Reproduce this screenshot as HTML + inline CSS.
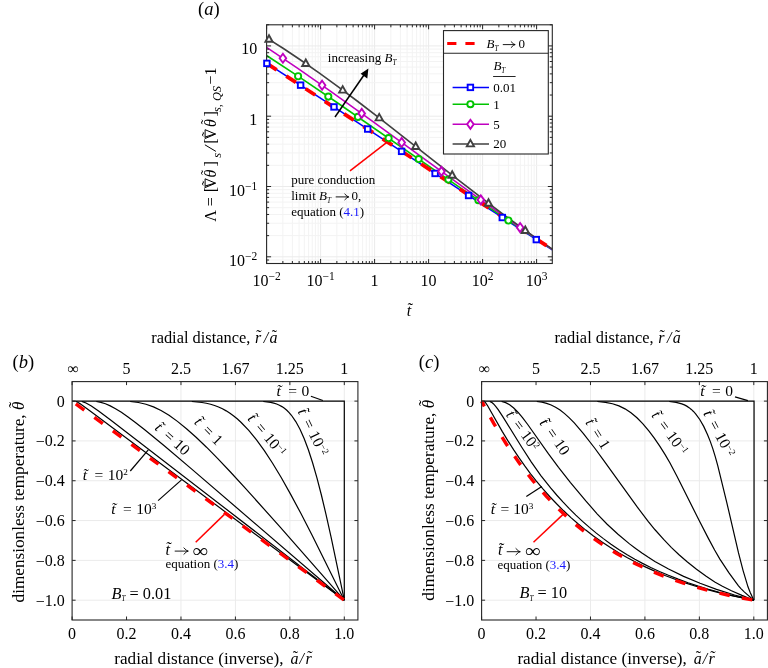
<!DOCTYPE html>
<html><head><meta charset="utf-8"><title>figure</title>
<style>html,body{margin:0;padding:0;background:#fff;}svg{display:block;filter:blur(0.3px);}
text{font-family:"Liberation Serif", serif;fill:#000;}</style></head>
<body><svg width="768" height="668" viewBox="0 0 768 668">
<defs><clipPath id="clipA"><rect x="266.6" y="24.8" width="285.7" height="238.7"/></clipPath></defs>
<rect width="768" height="668" fill="#fff"/>
<g stroke-width="1"><line x1="282.86" y1="24.8" x2="282.86" y2="263.5" stroke="#f3f3f3"/>
<line x1="292.36" y1="24.8" x2="292.36" y2="263.5" stroke="#f3f3f3"/>
<line x1="299.11" y1="24.8" x2="299.11" y2="263.5" stroke="#f3f3f3"/>
<line x1="304.34" y1="24.8" x2="304.34" y2="263.5" stroke="#f3f3f3"/>
<line x1="308.62" y1="24.8" x2="308.62" y2="263.5" stroke="#f3f3f3"/>
<line x1="312.24" y1="24.8" x2="312.24" y2="263.5" stroke="#f3f3f3"/>
<line x1="315.37" y1="24.8" x2="315.37" y2="263.5" stroke="#f3f3f3"/>
<line x1="318.13" y1="24.8" x2="318.13" y2="263.5" stroke="#f3f3f3"/>
<line x1="320.6" y1="24.8" x2="320.6" y2="263.5" stroke="#ebebeb"/>
<line x1="336.86" y1="24.8" x2="336.86" y2="263.5" stroke="#f3f3f3"/>
<line x1="346.36" y1="24.8" x2="346.36" y2="263.5" stroke="#f3f3f3"/>
<line x1="353.11" y1="24.8" x2="353.11" y2="263.5" stroke="#f3f3f3"/>
<line x1="358.34" y1="24.8" x2="358.34" y2="263.5" stroke="#f3f3f3"/>
<line x1="362.62" y1="24.8" x2="362.62" y2="263.5" stroke="#f3f3f3"/>
<line x1="366.24" y1="24.8" x2="366.24" y2="263.5" stroke="#f3f3f3"/>
<line x1="369.37" y1="24.8" x2="369.37" y2="263.5" stroke="#f3f3f3"/>
<line x1="372.13" y1="24.8" x2="372.13" y2="263.5" stroke="#f3f3f3"/>
<line x1="374.6" y1="24.8" x2="374.6" y2="263.5" stroke="#ebebeb"/>
<line x1="390.86" y1="24.8" x2="390.86" y2="263.5" stroke="#f3f3f3"/>
<line x1="400.36" y1="24.8" x2="400.36" y2="263.5" stroke="#f3f3f3"/>
<line x1="407.11" y1="24.8" x2="407.11" y2="263.5" stroke="#f3f3f3"/>
<line x1="412.34" y1="24.8" x2="412.34" y2="263.5" stroke="#f3f3f3"/>
<line x1="416.62" y1="24.8" x2="416.62" y2="263.5" stroke="#f3f3f3"/>
<line x1="420.24" y1="24.8" x2="420.24" y2="263.5" stroke="#f3f3f3"/>
<line x1="423.37" y1="24.8" x2="423.37" y2="263.5" stroke="#f3f3f3"/>
<line x1="426.13" y1="24.8" x2="426.13" y2="263.5" stroke="#f3f3f3"/>
<line x1="428.6" y1="24.8" x2="428.6" y2="263.5" stroke="#ebebeb"/>
<line x1="444.86" y1="24.8" x2="444.86" y2="263.5" stroke="#f3f3f3"/>
<line x1="454.36" y1="24.8" x2="454.36" y2="263.5" stroke="#f3f3f3"/>
<line x1="461.11" y1="24.8" x2="461.11" y2="263.5" stroke="#f3f3f3"/>
<line x1="466.34" y1="24.8" x2="466.34" y2="263.5" stroke="#f3f3f3"/>
<line x1="470.62" y1="24.8" x2="470.62" y2="263.5" stroke="#f3f3f3"/>
<line x1="474.24" y1="24.8" x2="474.24" y2="263.5" stroke="#f3f3f3"/>
<line x1="477.37" y1="24.8" x2="477.37" y2="263.5" stroke="#f3f3f3"/>
<line x1="480.13" y1="24.8" x2="480.13" y2="263.5" stroke="#f3f3f3"/>
<line x1="482.6" y1="24.8" x2="482.6" y2="263.5" stroke="#ebebeb"/>
<line x1="498.86" y1="24.8" x2="498.86" y2="263.5" stroke="#f3f3f3"/>
<line x1="508.36" y1="24.8" x2="508.36" y2="263.5" stroke="#f3f3f3"/>
<line x1="515.11" y1="24.8" x2="515.11" y2="263.5" stroke="#f3f3f3"/>
<line x1="520.34" y1="24.8" x2="520.34" y2="263.5" stroke="#f3f3f3"/>
<line x1="524.62" y1="24.8" x2="524.62" y2="263.5" stroke="#f3f3f3"/>
<line x1="528.24" y1="24.8" x2="528.24" y2="263.5" stroke="#f3f3f3"/>
<line x1="531.37" y1="24.8" x2="531.37" y2="263.5" stroke="#f3f3f3"/>
<line x1="534.13" y1="24.8" x2="534.13" y2="263.5" stroke="#f3f3f3"/>
<line x1="536.6" y1="24.8" x2="536.6" y2="263.5" stroke="#ebebeb"/>
<line x1="266.6" y1="260.02" x2="552.3" y2="260.02" stroke="#f3f3f3"/>
<line x1="266.6" y1="256.8" x2="552.3" y2="256.8" stroke="#ebebeb"/>
<line x1="266.6" y1="235.64" x2="552.3" y2="235.64" stroke="#f3f3f3"/>
<line x1="266.6" y1="223.26" x2="552.3" y2="223.26" stroke="#f3f3f3"/>
<line x1="266.6" y1="214.48" x2="552.3" y2="214.48" stroke="#f3f3f3"/>
<line x1="266.6" y1="207.66" x2="552.3" y2="207.66" stroke="#f3f3f3"/>
<line x1="266.6" y1="202.1" x2="552.3" y2="202.1" stroke="#f3f3f3"/>
<line x1="266.6" y1="197.39" x2="552.3" y2="197.39" stroke="#f3f3f3"/>
<line x1="266.6" y1="193.31" x2="552.3" y2="193.31" stroke="#f3f3f3"/>
<line x1="266.6" y1="189.72" x2="552.3" y2="189.72" stroke="#f3f3f3"/>
<line x1="266.6" y1="186.5" x2="552.3" y2="186.5" stroke="#ebebeb"/>
<line x1="266.6" y1="165.34" x2="552.3" y2="165.34" stroke="#f3f3f3"/>
<line x1="266.6" y1="152.96" x2="552.3" y2="152.96" stroke="#f3f3f3"/>
<line x1="266.6" y1="144.18" x2="552.3" y2="144.18" stroke="#f3f3f3"/>
<line x1="266.6" y1="137.36" x2="552.3" y2="137.36" stroke="#f3f3f3"/>
<line x1="266.6" y1="131.8" x2="552.3" y2="131.8" stroke="#f3f3f3"/>
<line x1="266.6" y1="127.09" x2="552.3" y2="127.09" stroke="#f3f3f3"/>
<line x1="266.6" y1="123.01" x2="552.3" y2="123.01" stroke="#f3f3f3"/>
<line x1="266.6" y1="119.42" x2="552.3" y2="119.42" stroke="#f3f3f3"/>
<line x1="266.6" y1="116.2" x2="552.3" y2="116.2" stroke="#ebebeb"/>
<line x1="266.6" y1="95.04" x2="552.3" y2="95.04" stroke="#f3f3f3"/>
<line x1="266.6" y1="82.66" x2="552.3" y2="82.66" stroke="#f3f3f3"/>
<line x1="266.6" y1="73.88" x2="552.3" y2="73.88" stroke="#f3f3f3"/>
<line x1="266.6" y1="67.06" x2="552.3" y2="67.06" stroke="#f3f3f3"/>
<line x1="266.6" y1="61.5" x2="552.3" y2="61.5" stroke="#f3f3f3"/>
<line x1="266.6" y1="56.79" x2="552.3" y2="56.79" stroke="#f3f3f3"/>
<line x1="266.6" y1="52.71" x2="552.3" y2="52.71" stroke="#f3f3f3"/>
<line x1="266.6" y1="49.12" x2="552.3" y2="49.12" stroke="#f3f3f3"/>
<line x1="266.6" y1="45.9" x2="552.3" y2="45.9" stroke="#ebebeb"/></g>
<g clip-path="url(#clipA)"><path d="M266.6 63.19 L326.62 102.1 L480.27 203.13 L552.3 249.9" fill="none" stroke="#0000ff" stroke-width="1.6"/>
<path d="M266.6 55.46 L300.21 77.65 L336.22 102.02 L449.06 180.05 L487.48 206.36 L521.09 228.94 L552.3 249.38" fill="none" stroke="#00c400" stroke-width="1.6"/>
<path d="M266.6 47.39 L297.81 68.37 L331.42 91.79 L369.84 119.29 L449.06 176.94 L482.68 201.16 L518.69 226.55 L552.3 249.46" fill="none" stroke="#c000c0" stroke-width="1.6"/>
<path d="M266.6 37.81 L283.41 48.48 L300.21 59.71 L319.42 73.13 L338.63 87.09 L357.83 101.49 L379.44 118.08 L456.27 178.41 L487.48 202.49 L504.28 215.12 L521.09 227.42 L537.89 239.33 L552.3 249.18" fill="none" stroke="#404040" stroke-width="1.6"/>
<path d="M266.6 63.37 L552.3 249.34" fill="none" stroke="#ff0000" stroke-width="3.8" stroke-dasharray="11.5 11.5" stroke-dashoffset="-0.5"/></g>
<rect x="266.6" y="24.8" width="285.7" height="238.7" fill="none" stroke="#262626" stroke-width="1.1"/>
<path d="M266.6 263.5 v-4.5 M266.6 24.8 v4.5 M282.86 263.5 v-2.5 M282.86 24.8 v2.5 M292.36 263.5 v-2.5 M292.36 24.8 v2.5 M299.11 263.5 v-2.5 M299.11 24.8 v2.5 M304.34 263.5 v-2.5 M304.34 24.8 v2.5 M308.62 263.5 v-2.5 M308.62 24.8 v2.5 M312.24 263.5 v-2.5 M312.24 24.8 v2.5 M315.37 263.5 v-2.5 M315.37 24.8 v2.5 M318.13 263.5 v-2.5 M318.13 24.8 v2.5 M320.6 263.5 v-4.5 M320.6 24.8 v4.5 M336.86 263.5 v-2.5 M336.86 24.8 v2.5 M346.36 263.5 v-2.5 M346.36 24.8 v2.5 M353.11 263.5 v-2.5 M353.11 24.8 v2.5 M358.34 263.5 v-2.5 M358.34 24.8 v2.5 M362.62 263.5 v-2.5 M362.62 24.8 v2.5 M366.24 263.5 v-2.5 M366.24 24.8 v2.5 M369.37 263.5 v-2.5 M369.37 24.8 v2.5 M372.13 263.5 v-2.5 M372.13 24.8 v2.5 M374.6 263.5 v-4.5 M374.6 24.8 v4.5 M390.86 263.5 v-2.5 M390.86 24.8 v2.5 M400.36 263.5 v-2.5 M400.36 24.8 v2.5 M407.11 263.5 v-2.5 M407.11 24.8 v2.5 M412.34 263.5 v-2.5 M412.34 24.8 v2.5 M416.62 263.5 v-2.5 M416.62 24.8 v2.5 M420.24 263.5 v-2.5 M420.24 24.8 v2.5 M423.37 263.5 v-2.5 M423.37 24.8 v2.5 M426.13 263.5 v-2.5 M426.13 24.8 v2.5 M428.6 263.5 v-4.5 M428.6 24.8 v4.5 M444.86 263.5 v-2.5 M444.86 24.8 v2.5 M454.36 263.5 v-2.5 M454.36 24.8 v2.5 M461.11 263.5 v-2.5 M461.11 24.8 v2.5 M466.34 263.5 v-2.5 M466.34 24.8 v2.5 M470.62 263.5 v-2.5 M470.62 24.8 v2.5 M474.24 263.5 v-2.5 M474.24 24.8 v2.5 M477.37 263.5 v-2.5 M477.37 24.8 v2.5 M480.13 263.5 v-2.5 M480.13 24.8 v2.5 M482.6 263.5 v-4.5 M482.6 24.8 v4.5 M498.86 263.5 v-2.5 M498.86 24.8 v2.5 M508.36 263.5 v-2.5 M508.36 24.8 v2.5 M515.11 263.5 v-2.5 M515.11 24.8 v2.5 M520.34 263.5 v-2.5 M520.34 24.8 v2.5 M524.62 263.5 v-2.5 M524.62 24.8 v2.5 M528.24 263.5 v-2.5 M528.24 24.8 v2.5 M531.37 263.5 v-2.5 M531.37 24.8 v2.5 M534.13 263.5 v-2.5 M534.13 24.8 v2.5 M536.6 263.5 v-4.5 M536.6 24.8 v4.5 M266.6 260.02 h2.5 M552.3 260.02 h-2.5 M266.6 256.8 h4.5 M552.3 256.8 h-4.5 M266.6 235.64 h2.5 M552.3 235.64 h-2.5 M266.6 223.26 h2.5 M552.3 223.26 h-2.5 M266.6 214.48 h2.5 M552.3 214.48 h-2.5 M266.6 207.66 h2.5 M552.3 207.66 h-2.5 M266.6 202.1 h2.5 M552.3 202.1 h-2.5 M266.6 197.39 h2.5 M552.3 197.39 h-2.5 M266.6 193.31 h2.5 M552.3 193.31 h-2.5 M266.6 189.72 h2.5 M552.3 189.72 h-2.5 M266.6 186.5 h4.5 M552.3 186.5 h-4.5 M266.6 165.34 h2.5 M552.3 165.34 h-2.5 M266.6 152.96 h2.5 M552.3 152.96 h-2.5 M266.6 144.18 h2.5 M552.3 144.18 h-2.5 M266.6 137.36 h2.5 M552.3 137.36 h-2.5 M266.6 131.8 h2.5 M552.3 131.8 h-2.5 M266.6 127.09 h2.5 M552.3 127.09 h-2.5 M266.6 123.01 h2.5 M552.3 123.01 h-2.5 M266.6 119.42 h2.5 M552.3 119.42 h-2.5 M266.6 116.2 h4.5 M552.3 116.2 h-4.5 M266.6 95.04 h2.5 M552.3 95.04 h-2.5 M266.6 82.66 h2.5 M552.3 82.66 h-2.5 M266.6 73.88 h2.5 M552.3 73.88 h-2.5 M266.6 67.06 h2.5 M552.3 67.06 h-2.5 M266.6 61.5 h2.5 M552.3 61.5 h-2.5 M266.6 56.79 h2.5 M552.3 56.79 h-2.5 M266.6 52.71 h2.5 M552.3 52.71 h-2.5 M266.6 49.12 h2.5 M552.3 49.12 h-2.5 M266.6 45.9 h4.5 M552.3 45.9 h-4.5 M266.6 24.74 h2.5 M552.3 24.74 h-2.5" stroke="#262626" stroke-width="1" fill="none"/>
<rect x="264.15" y="60.63" width="5.5" height="5.5" fill="#fff" stroke="#0000ff" stroke-width="1.9"/>
<rect x="297.85" y="82.4" width="5.5" height="5.5" fill="#fff" stroke="#0000ff" stroke-width="1.9"/>
<rect x="331.25" y="104.17" width="5.5" height="5.5" fill="#fff" stroke="#0000ff" stroke-width="1.9"/>
<rect x="364.95" y="126.29" width="5.5" height="5.5" fill="#fff" stroke="#0000ff" stroke-width="1.9"/>
<rect x="398.85" y="148.61" width="5.5" height="5.5" fill="#fff" stroke="#0000ff" stroke-width="1.9"/>
<rect x="432.35" y="170.69" width="5.5" height="5.5" fill="#fff" stroke="#0000ff" stroke-width="1.9"/>
<rect x="465.85" y="192.73" width="5.5" height="5.5" fill="#fff" stroke="#0000ff" stroke-width="1.9"/>
<rect x="499.55" y="214.78" width="5.5" height="5.5" fill="#fff" stroke="#0000ff" stroke-width="1.9"/>
<rect x="533.55" y="236.85" width="5.5" height="5.5" fill="#fff" stroke="#0000ff" stroke-width="1.9"/>
<circle cx="298.1" cy="76.24" r="3.1" fill="#fff" stroke="#00c400" stroke-width="1.9"/>
<circle cx="328.3" cy="96.61" r="3.1" fill="#fff" stroke="#00c400" stroke-width="1.9"/>
<circle cx="357.9" cy="116.9" r="3.1" fill="#fff" stroke="#00c400" stroke-width="1.9"/>
<circle cx="388.6" cy="138.13" r="3.1" fill="#fff" stroke="#00c400" stroke-width="1.9"/>
<circle cx="418.7" cy="159.03" r="3.1" fill="#fff" stroke="#00c400" stroke-width="1.9"/>
<circle cx="448.4" cy="179.59" r="3.1" fill="#fff" stroke="#00c400" stroke-width="1.9"/>
<circle cx="478.4" cy="200.18" r="3.1" fill="#fff" stroke="#00c400" stroke-width="1.9"/>
<circle cx="508.4" cy="220.48" r="3.1" fill="#fff" stroke="#00c400" stroke-width="1.9"/>
<path d="M282.9 53.74 L286.2 58.24 L282.9 62.74 L279.6 58.24 Z" fill="#fff" stroke="#c000c0" stroke-width="1.9"/>
<path d="M322.1 80.72 L325.4 85.22 L322.1 89.72 L318.8 85.22 Z" fill="#fff" stroke="#c000c0" stroke-width="1.9"/>
<path d="M361.7 108.92 L365 113.42 L361.7 117.92 L358.4 113.42 Z" fill="#fff" stroke="#c000c0" stroke-width="1.9"/>
<path d="M401.7 137.94 L405 142.44 L401.7 146.94 L398.4 142.44 Z" fill="#fff" stroke="#c000c0" stroke-width="1.9"/>
<path d="M441.4 166.88 L444.7 171.38 L441.4 175.88 L438.1 171.38 Z" fill="#fff" stroke="#c000c0" stroke-width="1.9"/>
<path d="M480.8 195.32 L484.1 199.82 L480.8 204.32 L477.5 199.82 Z" fill="#fff" stroke="#c000c0" stroke-width="1.9"/>
<path d="M520.1 223.03 L523.4 227.53 L520.1 232.03 L516.8 227.53 Z" fill="#fff" stroke="#c000c0" stroke-width="1.9"/>
<path d="M269 35.3 L272.6 41.8 L265.4 41.8 Z" fill="#fff" stroke="#404040" stroke-width="1.9"/>
<path d="M305.8 59.55 L309.4 66.05 L302.2 66.05 Z" fill="#fff" stroke="#404040" stroke-width="1.9"/>
<path d="M342.7 86.11 L346.3 92.61 L339.1 92.61 Z" fill="#fff" stroke="#404040" stroke-width="1.9"/>
<path d="M379.2 113.9 L382.8 120.4 L375.6 120.4 Z" fill="#fff" stroke="#404040" stroke-width="1.9"/>
<path d="M415.7 142.5 L419.3 149 L412.1 149 Z" fill="#fff" stroke="#404040" stroke-width="1.9"/>
<path d="M452.2 171.23 L455.8 177.73 L448.6 177.73 Z" fill="#fff" stroke="#404040" stroke-width="1.9"/>
<path d="M488.5 199.27 L492.1 205.77 L484.9 205.77 Z" fill="#fff" stroke="#404040" stroke-width="1.9"/>
<path d="M525.3 226.44 L528.9 232.94 L521.7 232.94 Z" fill="#fff" stroke="#404040" stroke-width="1.9"/>
<text x="198" y="15" font-size="18.5" text-anchor="start">(<tspan font-style="italic">a</tspan>)</text>
<text x="257.3" y="54.3" font-size="16" text-anchor="end">10</text>
<text x="257.3" y="124.5" font-size="16" text-anchor="end">1</text>
<text x="257.3" y="195.9" font-size="16" text-anchor="end">10<tspan font-size="11.5" dy="-6">−1</tspan></text>
<text x="257.3" y="265.5" font-size="16" text-anchor="end">10<tspan font-size="11.5" dy="-6">−2</tspan></text>
<text x="266.6" y="285.7" font-size="16" text-anchor="middle">10<tspan font-size="11.5" dy="-6">−2</tspan></text>
<text x="320.6" y="285.7" font-size="16" text-anchor="middle">10<tspan font-size="11.5" dy="-6">−1</tspan></text>
<text x="374.6" y="285.7" font-size="16" text-anchor="middle">1</text>
<text x="428.6" y="285.7" font-size="16" text-anchor="middle">10</text>
<text x="482.6" y="285.7" font-size="16" text-anchor="middle">10<tspan font-size="11.5" dy="-6">2</tspan></text>
<text x="536.6" y="285.7" font-size="16" text-anchor="middle">10<tspan font-size="11.5" dy="-6">3</tspan></text>
<text x="409" y="315.5" font-size="16" text-anchor="middle"><tspan font-style="italic">t̃</tspan></text>
<g transform="translate(215.5 221.6) rotate(-90)"><text x="-0.2" y="0" font-size="16" text-anchor="start">Λ</text>
<text x="15.3" y="0" font-size="16" text-anchor="start">=</text>
<text x="29.3" y="0" font-size="16" text-anchor="start">[</text>
<path d="M34 -10.4 H42.8 L38.4 0 Z" fill="none" stroke="#000" stroke-width="1" stroke-linejoin="miter"/>
<path d="M35.5 -10.2 L38.7 0" stroke="#000" stroke-width="1.1"/>
<text x="38.5" y="-3.85" font-size="15" text-anchor="middle">˜</text>
<text x="44.1" y="0" font-size="16" text-anchor="start"><tspan font-style="italic">θ</tspan></text>
<text x="49.4" y="-4.15" font-size="15" text-anchor="middle">˜</text>
<text x="55" y="0" font-size="16" text-anchor="start">]</text>
<text x="77.9" y="0" font-size="16" text-anchor="start">[</text>
<path d="M83.1 -10.4 H91.9 L87.5 0 Z" fill="none" stroke="#000" stroke-width="1" stroke-linejoin="miter"/>
<path d="M84.6 -10.2 L87.8 0" stroke="#000" stroke-width="1.1"/>
<text x="87.6" y="-3.85" font-size="15" text-anchor="middle">˜</text>
<text x="94.6" y="0" font-size="16" text-anchor="start"><tspan font-style="italic">θ</tspan></text>
<text x="99.9" y="-4.15" font-size="15" text-anchor="middle">˜</text>
<text x="105.2" y="0" font-size="16" text-anchor="start">]</text>
<text x="63.9" y="5.5" font-size="12.3" text-anchor="start"><tspan font-style="italic">s</tspan></text>
<path d="M70.2 0.4 L76.8 -10.6" stroke="#000" stroke-width="1"/>
<text x="109.6" y="5.5" font-size="12.3" text-anchor="start"><tspan font-style="italic">s, QS</tspan></text>
<text x="137.1" y="0" font-size="16" text-anchor="start">−1</text></g>
<rect x="443.5" y="30.6" width="104.8" height="123.4" fill="#fff" stroke="#262626" stroke-width="1.1"/>
<line x1="443.5" y1="53.2" x2="548.3" y2="53.2" stroke="#262626" stroke-width="1.1"/>
<line x1="447.2" y1="43.6" x2="475" y2="43.6" stroke="#ff0000" stroke-width="3" stroke-dasharray="9.2 9"/>
<text x="486.6" y="48" font-size="13" text-anchor="start"><tspan font-style="italic">B</tspan><tspan font-size="7.2" font-style="italic" dy="2.9">T</tspan></text>
<path d="M503.2 44.6 H515 M511.2 41.75 Q513.67 44.4 515 44.6 Q513.67 44.8 511.2 47.45" fill="none" stroke="#000" stroke-width="0.9" stroke-linecap="round"/>
<text x="518.4" y="48" font-size="13" text-anchor="start">0</text>
<text x="493.4" y="69.9" font-size="13" text-anchor="start"><tspan font-style="italic">B</tspan><tspan font-size="7.2" font-style="italic" dy="2.9">T</tspan></text>
<line x1="493.1" y1="76.5" x2="515.6" y2="76.5" stroke="#262626" stroke-width="1"/>
<line x1="452.6" y1="87.4" x2="489" y2="87.4" stroke="#0000ff" stroke-width="1.5"/>
<rect x="467.65" y="84.65" width="5.5" height="5.5" fill="#fff" stroke="#0000ff" stroke-width="1.9"/>
<text x="493.2" y="91.8" font-size="13" text-anchor="start">0.01</text>
<line x1="452.6" y1="104.2" x2="489" y2="104.2" stroke="#00c400" stroke-width="1.5"/>
<circle cx="470.4" cy="104.2" r="3.1" fill="#fff" stroke="#00c400" stroke-width="1.9"/>
<text x="493.2" y="108.6" font-size="13" text-anchor="start">1</text>
<line x1="452.6" y1="124.3" x2="489" y2="124.3" stroke="#c000c0" stroke-width="1.5"/>
<path d="M470.4 119.8 L473.7 124.3 L470.4 128.8 L467.1 124.3 Z" fill="#fff" stroke="#c000c0" stroke-width="1.9"/>
<text x="493.2" y="128.7" font-size="13" text-anchor="start">5</text>
<line x1="452.6" y1="143.9" x2="489" y2="143.9" stroke="#404040" stroke-width="1.5"/>
<path d="M470.4 139.9 L474 146.4 L466.8 146.4 Z" fill="#fff" stroke="#404040" stroke-width="1.9"/>
<text x="493.2" y="148.3" font-size="13" text-anchor="start">20</text>
<text x="327.8" y="61.7" font-size="13" text-anchor="start">increasing <tspan font-style="italic">B</tspan><tspan font-size="7.2" font-style="italic" dy="2.9">T</tspan></text>
<line x1="335" y1="117" x2="364.5" y2="74.2" stroke="#000" stroke-width="1.5"/>
<path d="M368.4 68.4 L367.3 78.4 L360.6 73.8 Z" fill="#000"/>
<line x1="350" y1="170.9" x2="387.8" y2="141.7" stroke="#ff0000" stroke-width="1.5"/>
<text x="291.2" y="183.9" font-size="13" text-anchor="start">pure conduction</text>
<text x="291.2" y="200" font-size="13" text-anchor="start">limit <tspan font-style="italic">B</tspan><tspan font-size="7.2" font-style="italic" dy="2.9">T</tspan></text>
<path d="M336.1 196.9 H348.6 M344.8 194.05 Q347.27 196.7 348.6 196.9 Q347.27 197.1 344.8 199.75" fill="none" stroke="#000" stroke-width="0.9" stroke-linecap="round"/>
<text x="351.5" y="200" font-size="13" text-anchor="start">0,</text>
<text x="291.2" y="216" font-size="13" text-anchor="start">equation (<tspan fill="#1a1aff">4.1</tspan>)</text>
<g stroke-width="1"><line x1="180.98" y1="381.6" x2="180.98" y2="620" stroke="#ebebeb"/>
<line x1="235.42" y1="381.6" x2="235.42" y2="620" stroke="#ebebeb"/>
<line x1="289.86" y1="381.6" x2="289.86" y2="620" stroke="#ebebeb"/>
<line x1="344.3" y1="381.6" x2="344.3" y2="620" stroke="#ebebeb"/>
<line x1="72.1" y1="401.1" x2="357.91" y2="401.1" stroke="#ebebeb"/>
<line x1="72.1" y1="440.92" x2="357.91" y2="440.92" stroke="#ebebeb"/>
<line x1="72.1" y1="480.74" x2="357.91" y2="480.74" stroke="#ebebeb"/>
<line x1="72.1" y1="520.56" x2="357.91" y2="520.56" stroke="#ebebeb"/>
<line x1="72.1" y1="560.38" x2="357.91" y2="560.38" stroke="#ebebeb"/>
<line x1="72.1" y1="600.2" x2="357.91" y2="600.2" stroke="#ebebeb"/></g>
<g fill="none" stroke="#000" stroke-width="1.2"><path d="M263.25 401.49 L270.67 402.39 L273.8 403.11 L276.66 404.03 L279.38 405.19 L281.97 406.61 L284.42 408.29 L286.8 410.27 L289.11 412.57 L291.43 415.27 L295.78 421.56 L300 429.29 L304.22 438.76 L308.37 449.81 L312.59 462.79 L316.94 477.94 L321.44 495.25 L325.99 514.34 L331.03 536.85 L344.3 600.2"/>
<path d="M191.8 401.5 L201.94 402.47 L206.36 403.25 L210.58 404.25 L214.6 405.48 L218.54 407 L222.42 408.8 L226.17 410.86 L229.98 413.29 L233.72 416.01 L237.46 419.07 L241.2 422.48 L248.76 430.37 L256.52 439.82 L264.34 450.63 L272.58 463.21 L281.35 477.79 L290.81 494.6 L300.82 513.31 L312.11 535.28 L344.3 600.2"/>
<path d="M130.15 401.49 L138.38 402.47 L146 404.24 L153.49 406.91 L161.04 410.56 L169 415.35 L177.44 421.36 L186.49 428.68 L196.36 437.48 L206.5 447.2 L217.8 458.63 L230.45 471.97 L245.02 487.8 L280.2 527.17 L344.3 600.2"/>
<path d="M96.33 401.5 L100.89 402.34 L105.44 403.77 L110.28 405.87 L115.52 408.7 L121.37 412.35 L128.04 416.98 L135.73 422.72 L144.71 429.78 L164.24 445.83 L192.34 469.64 L344.3 600.2"/>
<path d="M81.76 401.49 L83.8 402.09 L85.98 403.02 L91.36 406.09 L98.91 411.28 L110.28 419.72 L344.3 600.2"/>
<path d="M76.05 401.47 L77.75 402.31 L80.2 403.87 L89.79 410.82 L225.08 511.68 L344.3 600.2"/>
<path d="M72.1 401.1 L344.3 401.1 L344.3 600.2"/></g>
<path d="M72.1 401.1 L344.3 600.2" fill="none" stroke="#ff0000" stroke-width="3.4" stroke-dasharray="10.5 12.47" stroke-dashoffset="-4.59"/>
<rect x="72.1" y="381.6" width="285.81" height="238.4" fill="none" stroke="#262626" stroke-width="1.1"/>
<path d="M72.1 620 v-3.5 M72.1 381.6 v3.5 M72.1 401.1 h3.5 M357.91 401.1 h-3.5 M126.54 620 v-3.5 M126.54 381.6 v3.5 M72.1 440.92 h3.5 M357.91 440.92 h-3.5 M180.98 620 v-3.5 M180.98 381.6 v3.5 M72.1 480.74 h3.5 M357.91 480.74 h-3.5 M235.42 620 v-3.5 M235.42 381.6 v3.5 M72.1 520.56 h3.5 M357.91 520.56 h-3.5 M289.86 620 v-3.5 M289.86 381.6 v3.5 M72.1 560.38 h3.5 M357.91 560.38 h-3.5 M344.3 620 v-3.5 M344.3 381.6 v3.5 M72.1 600.2 h3.5 M357.91 600.2 h-3.5" stroke="#262626" stroke-width="1" fill="none"/>
<text x="151.2" y="342.7" font-size="16.4" text-anchor="start">radial distance,</text>
<text x="255.1" y="342.7" font-size="16" text-anchor="start"><tspan font-style="italic">r</tspan></text>
<text x="258.9" y="340.96" font-size="16" text-anchor="middle">˜</text>
<text x="263.7" y="342.7" font-size="16" text-anchor="start"><tspan font-style="italic">/</tspan></text>
<text x="269.6" y="342.7" font-size="16" text-anchor="start"><tspan font-style="italic">a</tspan></text>
<text x="274.5" y="340.96" font-size="16" text-anchor="middle">˜</text>
<text x="12.6" y="368" font-size="18.5" text-anchor="start">(<tspan font-style="italic">b</tspan>)</text>
<text x="73.2" y="373.5" font-size="16" text-anchor="middle">∞</text>
<text x="126.54" y="373.5" font-size="16" text-anchor="middle">5</text>
<text x="180.98" y="373.5" font-size="16" text-anchor="middle">2.5</text>
<text x="235.42" y="373.5" font-size="16" text-anchor="middle">1.67</text>
<text x="289.86" y="373.5" font-size="16" text-anchor="middle">1.25</text>
<text x="344.3" y="373.5" font-size="16" text-anchor="middle">1</text>
<text x="64.7" y="406.5" font-size="16" text-anchor="end">0</text>
<text x="64.7" y="446.32" font-size="16" text-anchor="end"><tspan dy="1.1">−</tspan><tspan dy="-1.1">0.2</tspan></text>
<text x="64.7" y="486.14" font-size="16" text-anchor="end"><tspan dy="1.1">−</tspan><tspan dy="-1.1">0.4</tspan></text>
<text x="64.7" y="525.96" font-size="16" text-anchor="end"><tspan dy="1.1">−</tspan><tspan dy="-1.1">0.6</tspan></text>
<text x="64.7" y="565.78" font-size="16" text-anchor="end"><tspan dy="1.1">−</tspan><tspan dy="-1.1">0.8</tspan></text>
<text x="64.7" y="605.6" font-size="16" text-anchor="end"><tspan dy="1.1">−</tspan><tspan dy="-1.1">1.0</tspan></text>
<text x="72.1" y="638.7" font-size="16" text-anchor="middle">0</text>
<text x="126.54" y="638.7" font-size="16" text-anchor="middle">0.2</text>
<text x="180.98" y="638.7" font-size="16" text-anchor="middle">0.4</text>
<text x="235.42" y="638.7" font-size="16" text-anchor="middle">0.6</text>
<text x="289.86" y="638.7" font-size="16" text-anchor="middle">0.8</text>
<text x="344.3" y="638.7" font-size="16" text-anchor="middle">1.0</text>
<text x="114.2" y="663.9" font-size="17.2" text-anchor="start">radial distance (inverse),</text>
<text x="290.5" y="663.7" font-size="16" text-anchor="start"><tspan font-style="italic">a</tspan></text>
<text x="295.3" y="662.46" font-size="16" text-anchor="middle">˜</text>
<text x="299.5" y="663.7" font-size="16" text-anchor="start"><tspan font-style="italic">/</tspan></text>
<text x="305.4" y="663.7" font-size="16" text-anchor="start"><tspan font-style="italic">r</tspan></text>
<text x="309.8" y="662.46" font-size="16" text-anchor="middle">˜</text>
<g transform="translate(23.9 502) rotate(-90)"><text x="0" y="0" font-size="17.2" text-anchor="middle">dimensionless temperature, <tspan font-style="italic">θ</tspan><tspan font-style="italic" dx="-7.1" dy="-3.9">˜</tspan></text></g>
<g stroke-width="1"><line x1="590.48" y1="381.6" x2="590.48" y2="620" stroke="#ebebeb"/>
<line x1="644.92" y1="381.6" x2="644.92" y2="620" stroke="#ebebeb"/>
<line x1="699.36" y1="381.6" x2="699.36" y2="620" stroke="#ebebeb"/>
<line x1="753.8" y1="381.6" x2="753.8" y2="620" stroke="#ebebeb"/>
<line x1="481.6" y1="401.1" x2="767.41" y2="401.1" stroke="#ebebeb"/>
<line x1="481.6" y1="440.92" x2="767.41" y2="440.92" stroke="#ebebeb"/>
<line x1="481.6" y1="480.74" x2="767.41" y2="480.74" stroke="#ebebeb"/>
<line x1="481.6" y1="520.56" x2="767.41" y2="520.56" stroke="#ebebeb"/>
<line x1="481.6" y1="560.38" x2="767.41" y2="560.38" stroke="#ebebeb"/>
<line x1="481.6" y1="600.2" x2="767.41" y2="600.2" stroke="#ebebeb"/></g>
<g fill="none" stroke="#000" stroke-width="1.2"><path d="M669.28 401.5 L676.15 402.33 L681.8 403.83 L684.38 404.89 L686.76 406.14 L689.07 407.64 L691.31 409.41 L693.48 411.45 L695.64 413.85 L699.76 419.48 L703.71 426.39 L707.57 434.67 L710.34 441.61 L712.79 448.57 L715.25 456.56 L717.75 465.67 L726.62 501.77 L738.51 552.98 L743.03 570.31 L747.97 586.83 L750.1 592.16 L753.8 600.2"/>
<path d="M597.31 401.49 L605.47 402.31 L612.48 403.74 L618.95 405.91 L625 408.86 L630.98 412.79 L636.96 417.77 L642.93 423.8 L649.02 431.02 L654.29 438.07 L659.75 446.07 L664.97 454.33 L669.87 462.81 L677.09 476.49 L698.91 520.03 L708.5 538.64 L714.6 550.06 L719.89 559.11 L728.97 572.91 L738.3 585.67 L740.92 588.61 L744.22 591.86 L753.8 600.2"/>
<path d="M536.79 401.5 L541.96 402.19 L546.66 403.32 L551.15 404.97 L555.57 407.2 L560.06 410.08 L564.62 413.62 L569.31 417.87 L574.27 422.95 L583.43 433.58 L594.61 448 L602.75 459.05 L637 506.7 L648.14 521.44 L655.03 529.77 L663.63 539.41 L671.24 547.33 L678.75 554.51 L687.11 561.8 L696.52 569.3 L705.82 576.08 L714.76 581.99 L722.4 586.29 L731.45 590.76 L741.94 595.4 L753.8 600.2"/>
<path d="M501.6 401.49 L505.69 402.62 L509.64 404.73 L513.72 407.97 L518.15 412.48 L522.52 417.67 L527.72 424.5 L548.51 453.89 L558.52 467.37 L570.49 482.53 L585.79 500.88 L597.1 513.81 L607.14 524.26 L618 534.31 L629.5 543.89 L635.65 548.59 L641.94 553.08 L648.37 557.37 L654.88 561.42 L668.56 569.04 L683.62 576.34 L700.07 583.3 L716.51 589.33 L734.55 595.01 L753.8 600.2"/>
<path d="M489.83 401.48 L491.67 402.38 L493.58 403.94 L495.68 406.27 L498.19 409.61 L502.93 416.83 L521.78 447.22 L531.37 462.05 L540.86 475.54 L550.62 487.93 L556.65 495.01 L562.9 501.95 L569.29 508.64 L575.82 515.1 L582.55 521.38 L589.4 527.41 L596.32 533.14 L603.37 538.62 L610.98 544.16 L618.74 549.41 L626.72 554.45 L634.87 559.21 L642.53 563.36 L650.71 567.44 L659.37 571.43 L668.48 575.3 L678.19 579.13 L688.08 582.71 L698.17 586.08 L708.54 589.24 L719.32 592.25 L730.43 595.07 L741.95 597.73 L753.8 600.2"/>
<path d="M484.29 401.47 L485.7 402.84 L487.63 405.7 L502.2 431.36 L507.82 440.64 L513.72 449.9 L519.28 458.2 L524.93 466.19 L530.6 473.79 L536.37 481.1 L542.93 488.93 L549.64 496.47 L556.58 503.78 L563.66 510.81 L570.94 517.59 L578.29 524.02 L585.74 530.1 L593.47 536.01 L601.63 541.82 L609.99 547.36 L618.62 552.68 L627.44 557.73 L636.51 562.55 L645.77 567.1 L655.28 571.41 L665.05 575.49 L675 579.31 L685.21 582.9 L695.75 586.28 L706.57 589.44 L717.8 592.42 L729.37 595.19 L741.35 597.78 L753.8 600.2"/>
<path d="M481.6 401.1 L754.05 401.1 L754.05 600.2"/></g>
<path d="M481.6 401.1 L487.74 412.63 L493.88 423.56 L500.02 433.9 L506.16 443.71 L512.3 453 L519.12 462.74 L525.26 471.03 L532.08 479.72 L538.91 487.91 L546.41 496.37 L553.23 503.59 L560.74 511.04 L568.24 518.02 L575.74 524.55 L583.25 530.66 L591.44 536.89 L599.62 542.68 L607.81 548.06 L616.68 553.48 L625.55 558.49 L634.41 563.12 L643.96 567.72 L653.52 571.94 L663.07 575.83 L673.3 579.65 L683.53 583.14 L694.45 586.53 L705.36 589.6 L716.96 592.57 L728.56 595.24 L740.84 597.79 L753.8 600.2" fill="none" stroke="#ff0000" stroke-width="3.4" stroke-dasharray="10.5 12.47" stroke-dashoffset="-18.45"/>
<rect x="481.6" y="381.6" width="285.81" height="238.4" fill="none" stroke="#262626" stroke-width="1.1"/>
<path d="M481.6 620 v-3.5 M481.6 381.6 v3.5 M481.6 401.1 h3.5 M767.41 401.1 h-3.5 M536.04 620 v-3.5 M536.04 381.6 v3.5 M481.6 440.92 h3.5 M767.41 440.92 h-3.5 M590.48 620 v-3.5 M590.48 381.6 v3.5 M481.6 480.74 h3.5 M767.41 480.74 h-3.5 M644.92 620 v-3.5 M644.92 381.6 v3.5 M481.6 520.56 h3.5 M767.41 520.56 h-3.5 M699.36 620 v-3.5 M699.36 381.6 v3.5 M481.6 560.38 h3.5 M767.41 560.38 h-3.5 M753.8 620 v-3.5 M753.8 381.6 v3.5 M481.6 600.2 h3.5 M767.41 600.2 h-3.5" stroke="#262626" stroke-width="1" fill="none"/>
<text x="554.4" y="342.7" font-size="16.4" text-anchor="start">radial distance,</text>
<text x="658.3" y="342.7" font-size="16" text-anchor="start"><tspan font-style="italic">r</tspan></text>
<text x="662.1" y="340.96" font-size="16" text-anchor="middle">˜</text>
<text x="666.9" y="342.7" font-size="16" text-anchor="start"><tspan font-style="italic">/</tspan></text>
<text x="672.8" y="342.7" font-size="16" text-anchor="start"><tspan font-style="italic">a</tspan></text>
<text x="677.7" y="340.96" font-size="16" text-anchor="middle">˜</text>
<text x="418.8" y="368" font-size="18.5" text-anchor="start">(<tspan font-style="italic">c</tspan>)</text>
<text x="484.5" y="373.5" font-size="16" text-anchor="middle">∞</text>
<text x="536.04" y="373.5" font-size="16" text-anchor="middle">5</text>
<text x="590.48" y="373.5" font-size="16" text-anchor="middle">2.5</text>
<text x="644.92" y="373.5" font-size="16" text-anchor="middle">1.67</text>
<text x="699.36" y="373.5" font-size="16" text-anchor="middle">1.25</text>
<text x="753.8" y="373.5" font-size="16" text-anchor="middle">1</text>
<text x="474.2" y="406.5" font-size="16" text-anchor="end">0</text>
<text x="474.2" y="446.32" font-size="16" text-anchor="end"><tspan dy="1.1">−</tspan><tspan dy="-1.1">0.2</tspan></text>
<text x="474.2" y="486.14" font-size="16" text-anchor="end"><tspan dy="1.1">−</tspan><tspan dy="-1.1">0.4</tspan></text>
<text x="474.2" y="525.96" font-size="16" text-anchor="end"><tspan dy="1.1">−</tspan><tspan dy="-1.1">0.6</tspan></text>
<text x="474.2" y="565.78" font-size="16" text-anchor="end"><tspan dy="1.1">−</tspan><tspan dy="-1.1">0.8</tspan></text>
<text x="474.2" y="605.6" font-size="16" text-anchor="end"><tspan dy="1.1">−</tspan><tspan dy="-1.1">1.0</tspan></text>
<text x="481.6" y="638.7" font-size="16" text-anchor="middle">0</text>
<text x="536.04" y="638.7" font-size="16" text-anchor="middle">0.2</text>
<text x="590.48" y="638.7" font-size="16" text-anchor="middle">0.4</text>
<text x="644.92" y="638.7" font-size="16" text-anchor="middle">0.6</text>
<text x="699.36" y="638.7" font-size="16" text-anchor="middle">0.8</text>
<text x="753.8" y="638.7" font-size="16" text-anchor="middle">1.0</text>
<text x="517.4" y="663.9" font-size="17.2" text-anchor="start">radial distance (inverse),</text>
<text x="693.7" y="663.7" font-size="16" text-anchor="start"><tspan font-style="italic">a</tspan></text>
<text x="698.5" y="662.46" font-size="16" text-anchor="middle">˜</text>
<text x="702.7" y="663.7" font-size="16" text-anchor="start"><tspan font-style="italic">/</tspan></text>
<text x="708.6" y="663.7" font-size="16" text-anchor="start"><tspan font-style="italic">r</tspan></text>
<text x="713" y="662.46" font-size="16" text-anchor="middle">˜</text>
<g transform="translate(434.3 500.3) rotate(-90)"><text x="0" y="0" font-size="17.2" text-anchor="middle">dimensionless temperature, <tspan font-style="italic">θ</tspan><tspan font-style="italic" dx="-7.1" dy="-3.9">˜</tspan></text></g>
<text x="276.5" y="395.7" font-size="15.5" text-anchor="start"><tspan font-style="italic">t̃</tspan><tspan dx="3.5"> =</tspan><tspan dx="0.8"> 0</tspan></text>
<line x1="310.9" y1="396.2" x2="322.9" y2="400.5" stroke="#000" stroke-width="1.2"/>
<text transform="translate(297.5 411.5) rotate(64)" x="0" y="0" font-size="15.5"><tspan font-style="italic">t̃</tspan><tspan dx="3.5"> =</tspan><tspan dx="0.8"> 10</tspan><tspan font-size="9.2" dy="-4.6">−2</tspan></text>
<text transform="translate(247 419) rotate(50)" x="0" y="0" font-size="15.5"><tspan font-style="italic">t̃</tspan><tspan dx="3.5"> =</tspan><tspan dx="0.8"> 10</tspan><tspan font-size="9.2" dy="-4.6">−1</tspan></text>
<text transform="translate(193.5 423) rotate(45)" x="0" y="0" font-size="15.5"><tspan font-style="italic">t̃</tspan><tspan dx="3.5"> =</tspan><tspan dx="0.8"> 1</tspan></text>
<text transform="translate(154 429) rotate(42)" x="0" y="0" font-size="15.5"><tspan font-style="italic">t̃</tspan><tspan dx="3.5"> =</tspan><tspan dx="0.8"> 10</tspan></text>
<text x="82.7" y="479.9" font-size="15.5" text-anchor="start"><tspan font-style="italic">t̃</tspan><tspan dx="3.5"> =</tspan><tspan dx="0.8"> 10</tspan><tspan font-size="9.2" dy="-4.6">2</tspan></text>
<line x1="130.3" y1="471" x2="148.3" y2="449.9" stroke="#000" stroke-width="1.2"/>
<text x="111.2" y="514" font-size="15.5" text-anchor="start"><tspan font-style="italic">t̃</tspan><tspan dx="3.5"> =</tspan><tspan dx="0.8"> 10</tspan><tspan font-size="9.2" dy="-4.6">3</tspan></text>
<line x1="158.1" y1="500.6" x2="181.5" y2="479.9" stroke="#000" stroke-width="1.2"/>
<text x="165.5" y="554.5" font-size="16" text-anchor="start"><tspan font-style="italic">t̃</tspan></text>
<path d="M175.1 551.1 H188.1 M183.9 547.95 Q186.63 550.9 188.1 551.1 Q186.63 551.3 183.9 554.25" fill="none" stroke="#000" stroke-width="0.9" stroke-linecap="round"/>
<text transform="translate(192.3 556.6) scale(1 0.85)" x="0" y="0" font-size="22">∞</text>
<text x="165.4" y="568.3" font-size="13" text-anchor="start">equation (<tspan fill="#1a1aff">3.4</tspan>)</text>
<line x1="195.7" y1="542.2" x2="224.4" y2="514.4" stroke="#ff0000" stroke-width="1.5"/>
<text x="111.5" y="598.5" font-size="16.3" text-anchor="start"><tspan font-style="italic">B</tspan><tspan font-size="7.2" font-style="italic" dy="2.9">T</tspan><tspan dy="-2.9"> = 0.01</tspan></text>
<text x="700.2" y="396" font-size="15.5" text-anchor="start"><tspan font-style="italic">t̃</tspan><tspan dx="3.5"> =</tspan><tspan dx="0.8"> 0</tspan></text>
<line x1="735" y1="396.8" x2="747.9" y2="400.6" stroke="#000" stroke-width="1.2"/>
<text transform="translate(703 413.5) rotate(62)" x="0" y="0" font-size="15.5"><tspan font-style="italic">t̃</tspan><tspan dx="3.5"> =</tspan><tspan dx="0.8"> 10</tspan><tspan font-size="9.2" dy="-4.6">−2</tspan></text>
<text transform="translate(651 415.5) rotate(54)" x="0" y="0" font-size="15.5"><tspan font-style="italic">t̃</tspan><tspan dx="3.5"> =</tspan><tspan dx="0.8"> 10</tspan><tspan font-size="9.2" dy="-4.6">−1</tspan></text>
<text transform="translate(585 422.5) rotate(58)" x="0" y="0" font-size="15.5"><tspan font-style="italic">t̃</tspan><tspan dx="3.5"> =</tspan><tspan dx="0.8"> 1</tspan></text>
<text transform="translate(539 423) rotate(55)" x="0" y="0" font-size="15.5"><tspan font-style="italic">t̃</tspan><tspan dx="3.5"> =</tspan><tspan dx="0.8"> 10</tspan></text>
<text transform="translate(505.5 415) rotate(54)" x="0" y="0" font-size="15.5"><tspan font-style="italic">t̃</tspan><tspan dx="3.5"> =</tspan><tspan dx="0.8"> 10</tspan><tspan font-size="9.2" dy="-4.6">2</tspan></text>
<text x="490.7" y="513.6" font-size="15.5" text-anchor="start"><tspan font-style="italic">t̃</tspan><tspan dx="1.5"> =</tspan><tspan dx="0.3"> 10</tspan><tspan font-size="9.2" dy="-4.6">3</tspan></text>
<line x1="526.3" y1="496.4" x2="541.8" y2="486.4" stroke="#000" stroke-width="1.2"/>
<text x="498.1" y="555" font-size="16" text-anchor="start"><tspan font-style="italic">t̃</tspan></text>
<path d="M507.1 551.7 H520.1 M515.9 548.55 Q518.63 551.5 520.1 551.7 Q518.63 551.9 515.9 554.85" fill="none" stroke="#000" stroke-width="0.9" stroke-linecap="round"/>
<text transform="translate(524.7 557.2) scale(1 0.85)" x="0" y="0" font-size="22">∞</text>
<text x="497.4" y="569.4" font-size="13" text-anchor="start">equation (<tspan fill="#1a1aff">3.4</tspan>)</text>
<line x1="533.5" y1="542.2" x2="563.1" y2="514.4" stroke="#ff0000" stroke-width="1.5"/>
<text x="519.6" y="598.1" font-size="16.3" text-anchor="start"><tspan font-style="italic">B</tspan><tspan font-size="7.2" font-style="italic" dy="2.9">T</tspan><tspan dy="-2.9"> = 10</tspan></text>
</svg></body></html>
